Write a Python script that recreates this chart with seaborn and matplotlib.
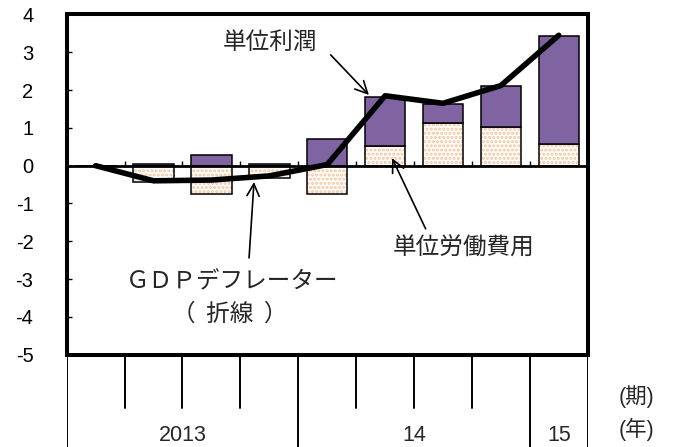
import numpy as np
import matplotlib
matplotlib.use("Agg")
import matplotlib.pyplot as plt
import seaborn as sns

# data (前年比, %)
quarters = ["2013Q1", "2013Q2", "2013Q3", "2013Q4",
            "2014Q1", "2014Q2", "2014Q3", "2014Q4", "2015Q1"]
labor_cost = [0.0, -0.42, -0.75, -0.32, -0.75, 0.53, 1.13, 1.02, 0.58]
unit_profit = [0.0, 0.04, 0.29, 0.04, 0.70, 1.28, 0.50, 1.10, 2.85]
gdp_deflator = [0.0, -0.40, -0.38, -0.27, 0.03, 1.85, 1.65, 2.12, 3.45]
year_labels = ["2013", "14", "15"]
year_counts = [4, 4, 1]
y_ticks = list(range(-5, 5))

purple = "#8064A2"
dots = "#F7C39C"

sns.set_theme(style="white")
plt.rcParams["font.family"] = ["Liberation Sans", "Noto Sans CJK JP"]
plt.rcParams["hatch.linewidth"] = 1.5

fig = plt.figure(figsize=(6.76, 4.47), dpi=100)
left, bottom, width, height = 0.0987, 0.2065, 0.7707, 0.7611
ax = fig.add_axes([left, bottom, width, height])

# labour cost: dotted fill first, then outline
sns.barplot(x=quarters, y=labor_cost, color="white", saturation=1, width=0.7,
            edgecolor=dots, hatch="....", linewidth=0, errorbar=None, ax=ax)
sns.barplot(x=quarters, y=labor_cost, color="black", fill=False, width=0.7,
            linewidth=1.1, errorbar=None, ax=ax)
# unit profit stacked on the positive part
sns.barplot(x=quarters, y=unit_profit, bottom=np.maximum(labor_cost, 0),
            color=purple, saturation=1, width=0.7, edgecolor="black",
            linewidth=1.1, errorbar=None, ax=ax)

pos = np.arange(len(quarters))
sns.lineplot(x=pos, y=gdp_deflator, color="black", lw=4, sort=False,
             solid_capstyle="round", ax=ax, zorder=5)

ax.set_xlim(-0.5, len(quarters) - 0.5)
ax.set_ylim(-5, 4)
ax.set_xlabel("")
ax.set_ylabel("")

# frame
for s in ["top", "left", "right"]:
    ax.spines[s].set_visible(True)
    ax.spines[s].set_color("black")
    ax.spines[s].set_linewidth(2.9)
ax.spines["bottom"].set_position(("data", 0))
ax.spines["bottom"].set_color("black")
ax.spines["bottom"].set_linewidth(2.0)
ax.axhline(-5, color="black", lw=2.9, clip_on=False, zorder=6)

ax.set_xticks(pos[:-1] + 0.5)
ax.set_xticklabels([])
ax.tick_params(axis="x", direction="in", length=3.3, width=1.0, color="black",
               bottom=True)
ax.set_yticks(y_ticks)
ax.set_yticklabels([str(v) for v in y_ticks])
ax.tick_params(axis="y", direction="in", length=3.6, width=1.0, color="black",
               left=True, pad=24, labelsize=14.5, labelcolor="black")

# annotations
cjk = ["Noto Sans CJK JP", "DejaVu Sans"]
arrow = dict(arrowstyle="->", color="black", lw=1.2, mutation_scale=22,
             shrinkA=0, shrinkB=0)
ax.text(3.01, 3.26, "単位利潤", fontsize=17, family=cjk, ha="center", va="center")
ax.annotate("", xy=(4.72, 1.87), xytext=(4.06, 2.93), arrowprops=arrow)
ax.text(6.35, -2.18, "単位労働費用", fontsize=17, family=cjk, ha="center", va="center")
ax.annotate("", xy=(5.12, 0.20), xytext=(5.70, -1.67), arrowprops=arrow)
ax.text(2.35, -3.08, "ＧＤＰデフレーター", fontsize=17, family=cjk,
        ha="center", va="center")
ax.text(2.32, -3.92, "（  折線  ）", fontsize=17, family=cjk, ha="center", va="center")
ax.annotate("", xy=(2.735, -0.43), xytext=(2.65, -2.44), arrowprops=arrow)

# category axis under the plot
cax = fig.add_axes([left, 0, width, bottom])
cax.set_xlim(-0.5, len(quarters) - 0.5)
cax.set_ylim(0, 1)
cax.axis("off")
edges = np.concatenate([[0], np.cumsum(year_counts)]) - 0.5
for b in pos[:-1] + 0.5:
    if b in edges:
        continue
    cax.plot([b, b], [1, 0.42], color="black", lw=1.4)
for e in edges:
    cax.plot([e, e], [1, 0], color="black", lw=1.4)
for lab, a, b in zip(year_labels, edges[:-1], edges[1:]):
    cax.text((a + b) / 2, 0.12, lab, fontsize=15.5, ha="center", va="center")

fig.text(0.942, 0.112, "(期)", fontsize=15.5, ha="center", va="center")
fig.text(0.942, 0.040, "(年)", fontsize=15.5, ha="center", va="center")

fig.savefig("out.png", dpi=100)
